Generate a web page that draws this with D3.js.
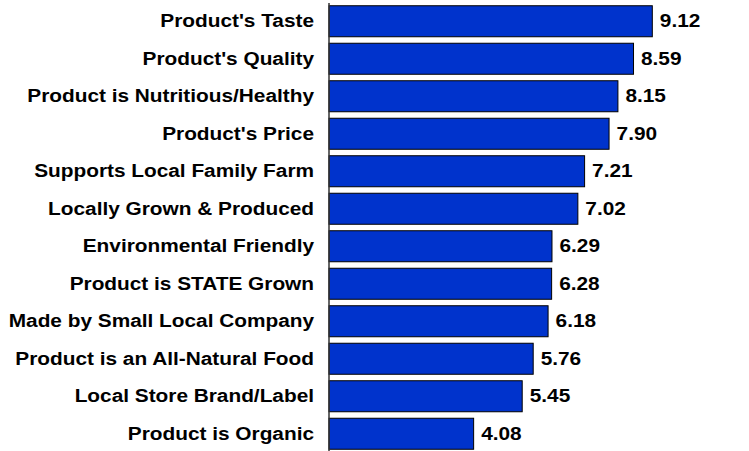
<!DOCTYPE html>
<html>
<head>
<meta charset="utf-8">
<script src="https://cdn.jsdelivr.net/npm/d3@7"></script>
<style>
  body { margin: 0; background: #fff; }
  svg { display: block; }
</style>
</head>
<body>
<svg id="chart" width="749" height="451"></svg>
<script>
// attribute names, top to bottom
var categories = [
  "Product's Taste",
  "Product's Quality",
  "Product is Nutritious/Healthy",
  "Product's Price",
  "Supports Local Family Farm",
  "Locally Grown & Produced",
  "Environmental Friendly",
  "Product is STATE Grown",
  "Made by Small Local Company",
  "Product is an All-Natural Food",
  "Local Store Brand/Label",
  "Product is Organic"
];
var scores = [9.12, 8.59, 8.15, 7.90, 7.21, 7.02, 6.29, 6.28, 6.18, 5.76, 5.45, 4.08];

var data = categories.map((c, i) => ({ name: c, value: scores[i] }));

var axisX = 329;
var stretch = 1.19;   // the text in the picture is a bit wider than normal Arial

let svg = d3.select("#chart");

let xScale = d3.scaleLinear()
  .domain([0, 10])
  .range([axisX, axisX + 354.5]);

let yScale = d3.scaleBand()
  .domain(categories)
  .range([2.5, 452.5])
  .paddingInner(0.173)
  .paddingOuter(0.0865);

svg.selectAll(".bar")
  .data(data)
  .join("rect")
  .attr("class", "bar")
  .attr("x", xScale(0))
  .attr("y", d => yScale(d.name))
  .attr("width", d => xScale(d.value) - xScale(0))
  .attr("height", yScale.bandwidth())
  .attr("fill", "#0033cc")
  .attr("stroke", "#000")
  .attr("stroke-width", 1);

// the vertical axis, no ticks
svg.append("line")
  .attr("x1", axisX)
  .attr("x2", axisX)
  .attr("y1", 3)
  .attr("y2", 451)
  .attr("stroke", "#333")
  .attr("stroke-width", 1.5);

// category labels
svg.selectAll(".cat")
  .data(data)
  .join("text")
  .attr("class", "cat")
  .attr("transform", d => `translate(314, ${yScale(d.name) + yScale.bandwidth() / 2}) scale(${stretch},1)`)
  .attr("text-anchor", "end")
  .attr("dy", "0.35em")
  .style("font-family", "Liberation Sans, Arial, sans-serif")
  .style("font-weight", "bold")
  .style("font-size", "17.5px")
  .attr("fill", "#000")
  .text(d => d.name);

// value labels
svg.selectAll(".val")
  .data(data)
  .join("text")
  .attr("class", "val")
  .attr("transform", d => `translate(${xScale(d.value) + 7.5}, ${yScale(d.name) + yScale.bandwidth() / 2}) scale(${stretch},1)`)
  .attr("dy", "0.35em")
  .style("font-family", "Liberation Sans, Arial, sans-serif")
  .style("font-weight", "bold")
  .style("font-size", "17.5px")
  .attr("fill", "#000")
  .text(d => d.value.toFixed(2));
</script>
</body>
</html>
